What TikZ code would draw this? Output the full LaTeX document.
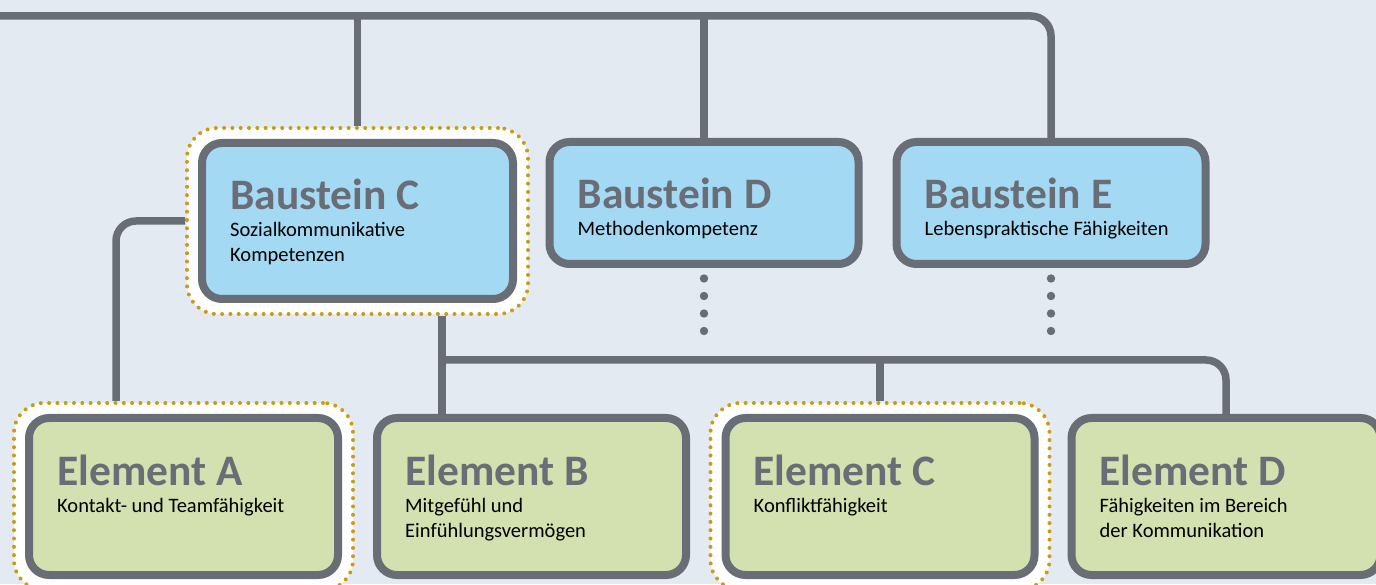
\documentclass[tikz,border=0pt]{standalone}
\usepackage{fontspec}
\setmainfont{Carlito}
\usepackage{xcolor}
\usepackage{tikz}
\usetikzlibrary{calc}
\definecolor{CW}{HTML}{E3EAF2}
\definecolor{CL}{HTML}{696D75}
\definecolor{CB}{HTML}{A3D9F3}
\definecolor{CG}{HTML}{D2E1AF}
\definecolor{CY}{HTML}{C99C11}
\begin{document}
\begin{tikzpicture}[x=1pt,y=1pt]
\tikzstyle{bs}=[draw=CL,line width=8,rounded corners=20,fill=CB,minimum width=309,minimum height=122,inner sep=0]
\tikzstyle{el}=[bs,fill=CG,minimum height=157]
\tikzstyle{hlt}=[draw=CY,fill=white,line width=4,line cap=round,dash pattern=on 0pt off 8.3pt,rounded corners=30,minimum width=339,minimum height=187,inner sep=0]
\tikzstyle{lk}=[draw=CL,line width=7.5,rounded corners=20]
\tikzstyle{ttl}=[anchor=base west,inner sep=0,text=CL,font=\fontsize{43.5}{48}\selectfont\bfseries]
\tikzstyle{sub}=[anchor=base west,inner sep=0,align=left,font=\fontsize{20.5}{25}\selectfont]

\path[fill=CW,use as bounding box] (0,0) rectangle (1376,584);
%
\node[hlt,minimum width=341,minimum height=186](bChl) at (357.5,363){};
\node[bs,minimum width=311,minimum height=156](bC) at (357.5,363){};
\node[bs](bD) at (704,381){};
\node[bs](bE) at (1051,381){};
%
\node[hlt](eAhl) at (183.5,87.5){};
\node[el](eA) at (183.5,87.5){};
\node[el](eB) at (531.5,87.5){};
\node[hlt](eChl) at (880,87.5){};
\node[el](eC) at (880,87.5){};
\node[el](eD) at (1226,87.5){};
%
% two-line texts: base is the last line
\node[ttl](bCt) at ([xshift=32,yshift=-71]bC.north west){Baustein C};
\node[sub](bCs) at ([yshift=-52]bCt.base west){Sozialkommunikative\\Kompetenzen};
\node[ttl](bDt) at ([xshift=32,yshift=-71]bD.north west){Baustein D};
\node[sub](bDs) at ([yshift=-27]bDt.base west){Methodenkompetenz};
\node[ttl](bEt) at ([xshift=32,yshift=-71]bE.north west){Baustein E};
\node[sub](bEs) at ([yshift=-27]bEt.base west){Lebenspraktische Fähigkeiten};
%
\node[ttl](eAt) at ([xshift=32,yshift=-71]eA.north west){Element A};
\node[sub](eAs) at ([yshift=-27]eAt.base west){Kontakt- und Teamfähigkeit};
\node[ttl](eBt) at ([xshift=32,yshift=-71]eB.north west){Element B};
\node[sub](eBs) at ([yshift=-52]eBt.base west){Mitgefühl und\\Einfühlungsvermögen};
\node[ttl](eCt) at ([xshift=32,yshift=-71]eC.north west){Element C};
\node[sub](eCs) at ([yshift=-27]eCt.base west){Konfliktfähigkeit};
\node[ttl](eDt) at ([xshift=32,yshift=-71]eD.north west){Element D};
\node[sub](eDs) at ([yshift=-52]eDt.base west){Fähigkeiten im Bereich\\der Kommunikation};
%
\coordinate (topL) at (0,568);
\coordinate (hub) at (442,224);
\coordinate (aX) at (116,0);
\draw[lk] (topL) -| (bE.north);
\draw[lk] (bChl.north |- topL) -- (bChl.north);
\draw[lk] (bD.north |- topL) -- (bD.north);
\draw[lk] (bChl.west) -| (eAhl.north -| aX);
\draw[lk] (hub |- bChl.south) -- (hub |- eB.north);
\draw[lk] (hub) -| (eD.north);
\draw[lk] (eChl.north |- hub) -- (eChl.north);
%
\foreach \b in {bD,bE}
  \foreach \k in {0,...,3}
    \fill[CL] ([yshift={-10.5-17.5*\k}]\b.south) circle (4.2);
\end{tikzpicture}
\end{document}
